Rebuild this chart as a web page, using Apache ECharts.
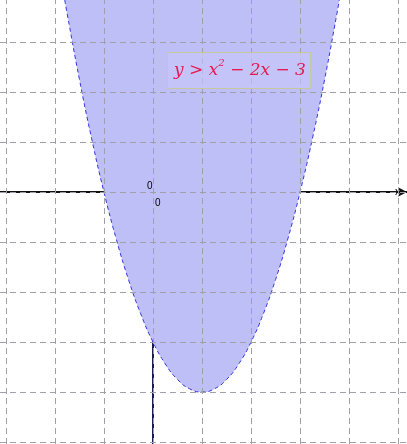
<!DOCTYPE html>
<html lang="en">
<head>
    <meta charset="UTF-8">
    <title>y > x^2 - 2x - 3</title>
    <script src="https://cdn.jsdelivr.net/npm/echarts@6/dist/echarts.min.js"></script>
    <style>html,body{margin:0;padding:0;background:#fff}</style>
</head>
<body>
    <div id="main" style="width: 407px; height: 444px;"></div>
    <script>
        // boundary curve y = x^2 - 2x - 3, sampled points
        var xs = [-1.8, -1.75, -1.5, -1.25, -1, -0.75, -0.5, -0.25, 0, 0.25, 0.5, 0.75, 1,
                  1.25, 1.5, 1.75, 2, 2.25, 2.5, 2.75, 3, 3.25, 3.5, 3.75, 3.8];
        var ys = [3.84, 3.5625, 2.25, 1.0625, 0, -0.9375, -1.75, -2.4375, -3, -3.4375, -3.75, -3.9375, -4,
                  -3.9375, -3.75, -3.4375, -3, -2.4375, -1.75, -0.9375, 0, 1.0625, 2.25, 3.5625, 3.84];
        var xRange = [-3.12, 5.18];
        var yRange = [-5.04, 3.84];
        var xTicks = [-3, -2, -1, 0, 1, 2, 3, 4, 5];
        var yTicks = [-5, -4, -3, -2, -1, 0, 1, 2, 3];

        var myChart = echarts.init(document.getElementById('main'));
        var pts = xs.map(function (x, i) { return [x, ys[i]]; });

        var grids = xTicks.map(function (v) { return {xAxis: v}; })
            .concat(yTicks.map(function (v) { return {yAxis: v}; }));

        option = {
            animation: false,
            grid: {left: 0, right: 0, top: 0, bottom: 0, containLabel: false, outerBoundsMode: 'none'},
            xAxis: {
                type: 'value', min: xRange[0], max: xRange[1],
                name: 'x', nameLocation: 'end', nameGap: -12,
                nameTextStyle: {color: '#000', fontSize: 11, padding: [0, 0, 22, 0]},
                axisLine: {onZero: true, symbol: ['none', 'arrow'], symbolSize: [7, 9], lineStyle: {color: '#111', width: 2}},
                axisTick: {show: true, length: 2, inside: true, customValues: xTicks, lineStyle: {color: '#111'}},
                axisLabel: {color: '#000', fontSize: 10, margin: 6, customValues: xTicks,
                    formatter: function (v) { return v === 0 ? '' : v; }},
                splitLine: {show: false}
            },
            yAxis: {
                type: 'value', min: yRange[0], max: yRange[1],
                name: 'y', nameLocation: 'end', nameGap: -16,
                nameTextStyle: {color: '#1a1a50', fontSize: 11, align: 'left', padding: [0, 0, 0, 6]},
                axisLine: {onZero: true, symbol: ['none', 'arrow'], symbolSize: [7, 9], lineStyle: {color: '#1a1a55', width: 2}},
                axisTick: {show: true, length: 2, inside: true, customValues: yTicks, lineStyle: {color: '#1a1a55'}},
                axisLabel: {color: '#000', fontSize: 10, margin: 8, customValues: yTicks,
                    formatter: function (v) { return v === 0 ? '' : v; }},
                splitLine: {show: false}
            },
            graphic: [
                {type: 'text', x: 147, y: 181, style: {text: '0', fill: '#000', font: '10px sans-serif'}, z: 10},
                {type: 'text', x: 155, y: 198, style: {text: '0', fill: '#000', font: '10px sans-serif'}, z: 10},
                {type: 'rect', shape: {x: 167.5, y: 52.5, width: 143, height: 36},
                    style: {fill: 'rgba(200,200,250,0.6)', stroke: '#c8c8a0', lineWidth: 1}, z: 10},
                {type: 'text', x: 174, y: 58, z: 11, style: {
                    text: '{m|y > x}{s|2}{m| − 2x − 3}',
                    rich: {
                        m: {fill: '#e8194f', fontFamily: 'DejaVu Serif', fontStyle: 'italic', fontSize: 17, lineHeight: 26},
                        s: {fill: '#e8194f', fontFamily: 'DejaVu Serif', fontStyle: 'italic', fontSize: 10, verticalAlign: 'top', lineHeight: 14}
                    }}}
            ],
            series: [
                {
                    type: 'line',
                    data: pts,
                    smooth: true,
                    symbol: 'none',
                    lineStyle: {type: [4, 3], color: '#3535e0', width: 1},
                    areaStyle: {origin: 'end', color: '#bfbff8', opacity: 1},
                    markLine: {
                        silent: true, symbol: 'none', label: {show: false},
                        lineStyle: {type: [6, 4], color: '#a0a0a8', width: 1},
                        data: grids
                    },
                    z: 1
                }
            ]
        };

        myChart.setOption(option);
    </script>
</body>
</html>
